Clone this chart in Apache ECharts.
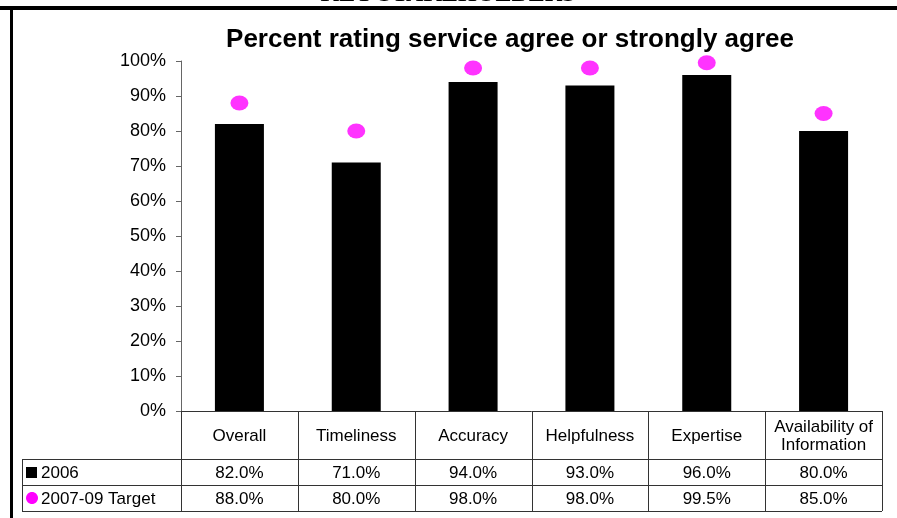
<!DOCTYPE html>
<html><head><meta charset="utf-8">
<script src="https://cdn.jsdelivr.net/npm/echarts@6/dist/echarts.min.js"></script>
<style>html,body{margin:0;padding:0;background:#fff}#c{width:897px;height:518px}</style>
</head><body><div id="c"></div>
<script>
const categories = ['Overall', 'Timeliness', 'Accuracy', 'Helpfulness', 'Expertise', 'Availability of\nInformation'];
const series2006 = [82.0, 71.0, 94.0, 93.0, 96.0, 80.0];
const seriesTarget = [88.0, 80.0, 98.0, 98.0, 99.5, 85.0];
const seriesNames = ['2006', '2007-09 Target'];
const yTickMax = 100, yTickStep = 10;
const chartTitle = 'Percent rating service agree or strongly agree';
const pageHeading = 'KEY STAKEHOLDERS';

const FONT = '"Liberation Sans", Arial, sans-serif';
const chart = echarts.init(document.getElementById('c'), null, {renderer: 'canvas'});
const GL = 181, GT = 61, GW = 701, GH = 350;
const option = {
  animation: false,
  title: {text: chartTitle, left: 505, top: 22, textAlign: 'center',
    textStyle: {fontFamily: FONT, fontSize: 26, fontWeight: 'bold', color: '#000'}},
  grid: {left: GL, top: GT, width: GW, height: GH},
  xAxis: {type: 'category', data: categories, boundaryGap: true,
    axisLine: {show: true, lineStyle: {color: '#333', width: 1}},
    axisTick: {show: false}, axisLabel: {show: false}, splitLine: {show: false}},
  yAxis: {type: 'value', min: 0, max: yTickMax, interval: yTickStep,
    axisLine: {show: true, lineStyle: {color: '#666', width: 1}},
    axisTick: {show: true, length: 5, lineStyle: {color: '#666'}},
    splitLine: {show: false},
    axisLabel: {formatter: v => v + '%', fontFamily: FONT, fontSize: 18, color: '#000', margin: 15}},
  series: [
    {name: seriesNames[0], type: 'bar', data: series2006, barWidth: 49,
      itemStyle: {color: '#000'}},
    {name: seriesNames[1], type: 'scatter', data: seriesTarget, symbol: 'circle', symbolSize: [18, 15],
      itemStyle: {color: '#FF00FF'}, z: 5}
  ]
};
chart.setOption(option);

const g = [];
const LC = '#333';
function line(x1, y1, x2, y2) {
  g.push({type: 'line', shape: {x1, y1, x2, y2}, style: {stroke: LC, lineWidth: 1}, silent: true});
}
function text(t, x, y, align) {
  g.push({type: 'text', x, y, style: {text: t, fontFamily: FONT, fontSize: 17, fill: '#000',
    align: align || 'center', verticalAlign: 'middle', lineHeight: 18}, silent: true});
}
const band = GW / categories.length;
const yBase = GT + GH; // 411
const rowH1 = 459, rowH2 = 485, rowH3 = 511;
const x0 = GL, xEnd = GL + GW;
// table grid
line(22, rowH1 + 0.5, xEnd, rowH1 + 0.5);
line(22, rowH2 + 0.5, xEnd, rowH2 + 0.5);
line(22, rowH3 + 0.5, xEnd, rowH3 + 0.5);
line(22.5, rowH1, 22.5, rowH3);
for (let i = 0; i <= categories.length; i++) {
  const x = Math.round(x0 + i * band) + 0.5;
  line(x, yBase, x, rowH3);
}
categories.forEach((c, i) => {
  const cx = chart.convertToPixel({xAxisIndex: 0}, i);
  text(c, cx, (yBase + rowH1) / 2 + 1);
  text(series2006[i].toFixed(1) + '%', cx, (rowH1 + rowH2) / 2 + 1);
  text(seriesTarget[i].toFixed(1) + '%', cx, (rowH2 + rowH3) / 2 + 1);
});
// legend keys
g.push({type: 'rect', shape: {x: 26, y: 467, width: 11, height: 11}, style: {fill: '#000'}, silent: true});
g.push({type: 'ellipse', shape: {cx: 32, cy: 498, rx: 6, ry: 6}, style: {fill: '#FF00FF'}, silent: true});
text(seriesNames[0], 41, (rowH1 + rowH2) / 2 + 1, 'left');
text(seriesNames[1], 41, (rowH2 + rowH3) / 2 + 1, 'left');
// page frame
g.push({type: 'rect', shape: {x: 0, y: 6, width: 897, height: 4}, style: {fill: '#000'}, silent: true});
g.push({type: 'rect', shape: {x: 10, y: 8, width: 3, height: 510}, style: {fill: '#000'}, silent: true});
g.push({type: 'text', x: 448, y: 7, style: {text: pageHeading, fontFamily: '"Liberation Serif", serif', fontSize: 24,
  fontWeight: 'bold', fill: '#000', align: 'center', verticalAlign: 'bottom'}, silent: true, z: -1});
chart.setOption({graphic: {elements: g}});
</script></body></html>
